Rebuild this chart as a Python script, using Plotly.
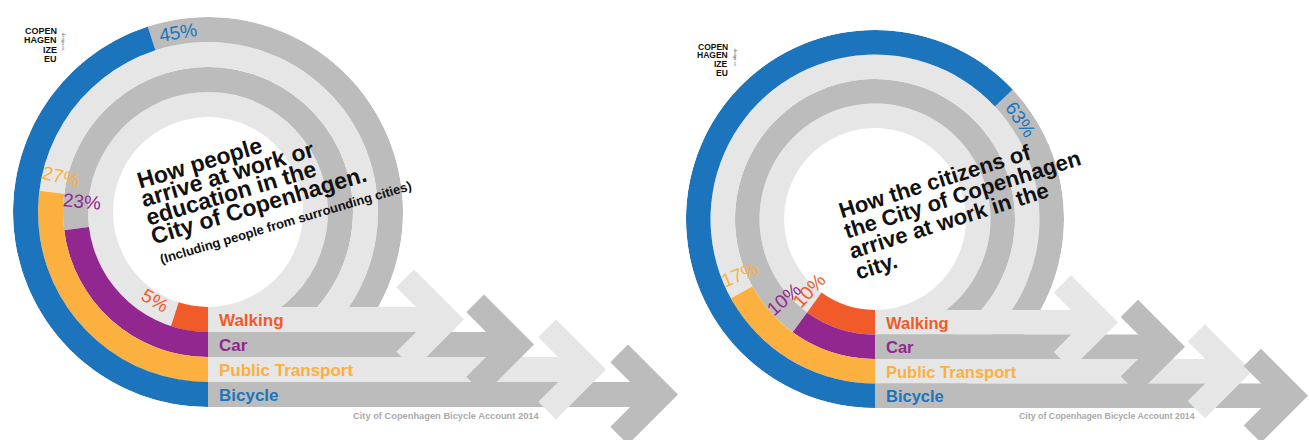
import math
import plotly.graph_objects as go

W, H = 1309, 440

# ---------------- data ----------------
modes = ["Walking", "Car", "Public Transport", "Bicycle"]          # inner ring -> outer ring
mode_colors = ["#F15A29", "#92278F", "#FBB040", "#1C75BC"]
share_left = [5, 23, 27, 45]      # % arriving at work/education in Copenhagen (incl. surrounding cities)
share_right = [10, 10, 17, 63]    # % of citizens of Copenhagen arriving at work in the city

title_left = ["How people", "arrive at work or", "education in the", "City of Copenhagen."]
subtitle_left = "(Including people from surrounding cities)"
title_right = ["How the citizens of", "the City of Copenhagen", "arrive at work in the", "city."]
footer = "City of Copenhagen Bicycle Account 2014"
logo_lines = ["COPEN", "HAGEN", "IZE", "EU"]

# ---------------- style / layout ----------------
FONT = "Liberation Sans, Arial, Helvetica, sans-serif"
DARK = "#BCBCBC"
LIGHT = "#E6E6E6"
ring_grays = [LIGHT, DARK, LIGHT, DARK]
radial_gap = [12, 28, 17, 17]     # px between arc end and a radial % label, per ring
tangent_gap = 27                  # px between arc end and a tangential % label

panels = [
    dict(shares=share_left, cx=208, cy=212, R=195, bw=25, tips=[256, 326, 398, 470], chev=50,
         title=title_left, sub=subtitle_left, t_ang=16.5, t_org=(131, 196), t_fs=23, t_sp=19.5,
         lab_fs=17, pct_fs=19, foot=(446, 416), foot_fs=9.3,
         logo_right=58, logo_y=[30.5, 40, 49.5, 59], logo_fs=9),
    dict(shares=share_right, cx=875, cy=219, R=189, bw=24.5, tips=[243, 310, 377, 433], chev=47,
         title=title_right, sub=None, t_ang=17.5, t_org=(833, 226), t_fs=22, t_sp=21.3,
         lab_fs=16.5, pct_fs=19, foot=(1107, 416), foot_fs=8.8,
         logo_right=729, logo_y=[47, 55.5, 64, 72.5], logo_fs=8.5),
]


def P(x, y):
    return x / W, 1 - y / H


def path(points):
    pts = [P(x, y) for x, y in points]
    return "M " + " L ".join(f"{a:.5f},{b:.5f}" for a, b in pts) + " Z"


fig = go.Figure()
shapes = []
annotations = []

for k, pn in enumerate(panels):
    polar_name = "polar" if k == 0 else f"polar{k + 1}"
    cx, cy, R, bw = pn["cx"], pn["cy"], pn["R"], pn["bw"]
    shares = pn["shares"]

    # ---- rings (gray remainder first, then coloured share) ----
    for i, (name, col, p) in enumerate(zip(modes, mode_colors, shares)):
        r_in = R - (4 - i) * bw
        end = p * 3.6
        fig.add_trace(go.Barpolar(
            r=[bw], base=[r_in], theta=[(end + 360) / 2], width=[360 - end],
            marker=dict(color=ring_grays[i], line=dict(width=0)),
            subplot=polar_name, showlegend=False, hoverinfo="skip"))
        fig.add_trace(go.Barpolar(
            r=[bw], base=[r_in], theta=[end / 2], width=[end],
            marker=dict(color=col, line=dict(width=0)),
            subplot=polar_name, showlegend=False, name=name,
            hovertemplate=f"{name}: {p}%<extra></extra>"))

        # percentage label just past the end of the coloured arc
        r_mid = r_in + bw / 2
        if end > 135:      # tangential label, upper half
            th = end + math.degrees(tangent_gap / r_mid)
            rl = r_mid
            ang = th - 180
        elif end < 30:     # tangential label, bottom (reads upright)
            th = end + math.degrees((tangent_gap - 3) / r_mid)
            rl = r_mid - 4
            ang = th
        else:              # radial label
            th = end + math.degrees(radial_gap[i] / r_mid)
            rl = r_mid - 6
            ang = th - 90
        t = math.radians(th)
        lx, ly = cx - rl * math.sin(t), cy + rl * math.cos(t)
        ax_, ay_ = P(lx, ly)
        annotations.append(dict(x=ax_, y=ay_, xref="paper", yref="paper", text=f"{p}%",
                                showarrow=False, textangle=ang, xanchor="center", yanchor="middle",
                                font=dict(family=FONT, size=pn["pct_fs"], color=col)))

    fig.update_layout(**{polar_name: dict(
        domain=dict(x=[(cx - R) / W, (cx + R) / W], y=[(H - cy - R) / H, (H - cy + R) / H]),
        bgcolor="rgba(0,0,0,0)", hole=0,
        radialaxis=dict(range=[0, R], visible=False),
        angularaxis=dict(rotation=270, direction="clockwise", visible=False),
    )})

    # ---- horizontal bands + arrow heads ----
    for i in range(4):
        r_in = R - (4 - i) * bw
        y0, y1 = cy + r_in, cy + r_in + bw
        xt = cx + pn["tips"][i]
        shapes.append(dict(type="path", xref="paper", yref="paper", layer="above",
                           path=path([(cx, y0), (xt - bw, y0), (xt - bw, y1), (cx, y1)]),
                           fillcolor=ring_grays[i], line=dict(width=0)))
    for i in range(4):
        r_in = R - (4 - i) * bw
        yc = cy + r_in + bw / 2
        xt = cx + pn["tips"][i]
        h = pn["chev"]
        s = bw / math.sqrt(2)
        pts = [(xt - h, yc - h), (xt, yc), (xt - h, yc + h), (xt - h - s, yc + h - s),
               (xt - 2 * s, yc), (xt - h - s, yc - h + s)]
        shapes.append(dict(type="path", xref="paper", yref="paper", layer="above",
                           path=path(pts), fillcolor=ring_grays[i], line=dict(width=0)))
        # band label
        lx, ly = P(cx + 9, yc + 0.5)
        annotations.append(dict(x=lx, y=ly, xref="paper", yref="paper", text=modes[i],
                                showarrow=False, xanchor="left", yanchor="middle",
                                font=dict(family=FONT, size=pn["lab_fs"], color=mode_colors[i],
                                          weight="bold")))

    # ---- rotated title ----
    a = math.radians(pn["t_ang"])
    ox, oy = pn["t_org"]
    for j, line in enumerate(pn["title"]):
        x, y = ox + j * pn["t_sp"] * math.sin(a) * 0.85, oy + j * pn["t_sp"] * math.cos(a)
        px_, py_ = P(x, y)
        annotations.append(dict(x=px_, y=py_, xref="paper", yref="paper", text=line,
                                showarrow=False, textangle=-pn["t_ang"], xanchor="left",
                                yanchor="bottom",
                                font=dict(family=FONT, size=pn["t_fs"], color="#111111",
                                          weight="bold")))
    if pn["sub"]:
        j = len(pn["title"]) - 1
        d = j * pn["t_sp"] + 18
        x, y = ox + d * math.sin(a) + 3, oy + d * math.cos(a)
        px_, py_ = P(x, y)
        annotations.append(dict(x=px_, y=py_, xref="paper", yref="paper", text=pn["sub"],
                                showarrow=False, textangle=-pn["t_ang"], xanchor="left",
                                yanchor="bottom",
                                font=dict(family=FONT, size=13, color="#111111", weight="bold")))

    # ---- footer ----
    fx, fy = P(*pn["foot"])
    annotations.append(dict(x=fx, y=fy, xref="paper", yref="paper", text=footer,
                            showarrow=False, xanchor="center", yanchor="middle",
                            font=dict(family=FONT, size=pn["foot_fs"], color="#A9A9A9",
                                      weight="bold")))

    # ---- logo ----
    for line, yy in zip(logo_lines, pn["logo_y"]):
        gx, gy = P(pn["logo_right"], yy)
        annotations.append(dict(x=gx, y=gy, xref="paper", yref="paper", text=line,
                                showarrow=False, xanchor="right", yanchor="middle", borderpad=0,
                                font=dict(family=FONT, size=pn["logo_fs"], color="#111111",
                                          weight="bold")))
    gx, gy = P(pn["logo_right"] + 6, pn["logo_y"][1] + 2)
    annotations.append(dict(x=gx, y=gy, xref="paper", yref="paper", text="design co.",
                            showarrow=False, textangle=90, xanchor="center", yanchor="middle",
                            borderpad=0, font=dict(family=FONT, size=4, color="#555555")))

fig.update_layout(
    width=W, height=H, margin=dict(l=0, r=0, t=0, b=0),
    paper_bgcolor="white", plot_bgcolor="white",
    showlegend=False, shapes=shapes, annotations=annotations,
)

fig.write_html("out.html")
